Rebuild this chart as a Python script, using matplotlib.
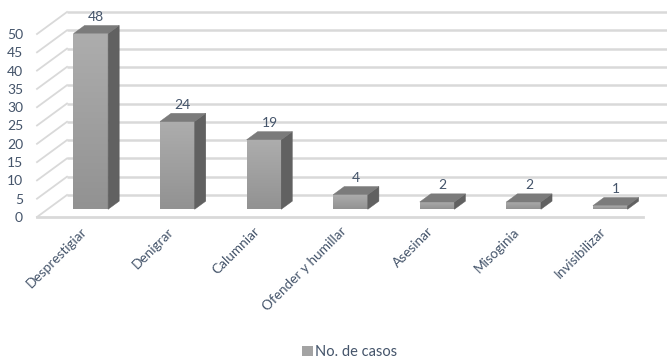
import numpy as np
import matplotlib
matplotlib.use('Agg')
import matplotlib.pyplot as plt
from matplotlib.patches import Polygon, Rectangle

categories = ['Desprestigiar', 'Denigrar', 'Calumniar', 'Ofender y humillar',
              'Asesinar', 'Misoginia', 'Invisibilizar']
casos = [48, 24, 19, 4, 2, 2, 1]
yticks = list(range(0, 55, 5))
series_name = 'No. de casos'

plt.rcParams['font.family'] = ['Lato', 'DejaVu Sans']
text_color = '#44546a'
grid_color = '#d9d9d9'

W, H = 667, 359
fig = plt.figure(figsize=(W / 100.0, H / 100.0), dpi=100)
ax = fig.add_axes([37 / W, 142 / H, 606 / W, 183 / H])
ax.set_xlim(-0.5, len(categories) - 0.5)
ax.set_ylim(0, 50)

# depth of the 3d box in data units (about 30 px right, 22 px up)
dxd = 30 / 86.6
dyd = 22 / 3.66
d_front, d_back = 0.35, 0.72
bw = 0.40
x0, x1 = -0.5, len(categories) - 0.5

# back wall gridlines and left wall diagonals
for v in yticks:
    ax.plot([x0 + dxd, x1 + dxd + 1], [v + dyd, v + dyd], color=grid_color,
            lw=1.8, clip_on=False, zorder=1, solid_capstyle='butt')
    ax.plot([x0, x0 + dxd], [v, v + dyd], color=grid_color, lw=1.3,
            clip_on=False, zorder=1)
# floor front edge
ax.plot([x0, x1], [0, 0], color=grid_color, lw=2.0, clip_on=False, zorder=1)

grad = np.linspace(0, 1, 100).reshape(-1, 1)
cmap_front = matplotlib.colors.LinearSegmentedColormap.from_list(
    'front', ['#929292', '#adadad'])

for i, v in enumerate(casos):
    xl = i - bw / 2 + d_front * dxd
    xr = xl + bw
    yb = d_front * dyd
    yt = v + d_front * dyd
    ddx = (d_back - d_front) * dxd
    ddy = (d_back - d_front) * dyd
    # front face with vertical gradient
    front = Rectangle((xl, yb), bw, v, facecolor='none', edgecolor='none',
                      zorder=3, clip_on=False)
    ax.add_patch(front)
    im = ax.imshow(grad, extent=[xl, xr, yb, yt], origin='lower', aspect='auto',
                   cmap=cmap_front, zorder=3)
    im.set_clip_path(front)
    # side face
    side = Polygon([[xr, yb], [xr + ddx, yb + ddy], [xr + ddx, yt + ddy], [xr, yt]],
                   closed=True, facecolor='#616161', edgecolor='#5a5a5a', lw=0.3,
                   zorder=3, clip_on=False)
    ax.add_patch(side)
    # top face
    top = Polygon([[xl, yt], [xr, yt], [xr + ddx, yt + ddy], [xl + ddx, yt + ddy]],
                  closed=True, facecolor='#7b7b7b', edgecolor='#737373', lw=0.3,
                  zorder=4, clip_on=False)
    ax.add_patch(top)
    ax.annotate(str(v), (i + (d_front + d_back) / 2 * dxd, v + d_back * dyd),
                xytext=(0, 2), textcoords='offset points', ha='center', va='bottom',
                fontsize=10, color=text_color, zorder=5, annotation_clip=False)

ax.set_xlim(x0, x1)
ax.set_ylim(0, 50)

ax.set_yticks(yticks)
ax.set_yticklabels([str(t) for t in yticks], fontsize=10, color=text_color)
ax.set_xticks(range(len(categories)))
ax.set_xticklabels(categories, rotation=45, ha='right', rotation_mode='anchor',
                   fontsize=9.8, color=text_color)
ax.tick_params(axis='y', length=0, pad=10)
ax.tick_params(axis='x', length=0, pad=6)
for s in ax.spines.values():
    s.set_visible(False)
ax.patch.set_visible(False)

# legend
fig.legend(handles=[Rectangle((0, 0), 1, 1, facecolor='#a3a3a3', edgecolor='none')],
           labels=[series_name], loc='center', bbox_to_anchor=(350 / W, 1 - 352 / H),
           frameon=False, fontsize=10.5, handlelength=0.75, handleheight=0.75,
           handletextpad=0.15, labelcolor=text_color)

fig.savefig('out.png', dpi=100)
plt.close('all')
